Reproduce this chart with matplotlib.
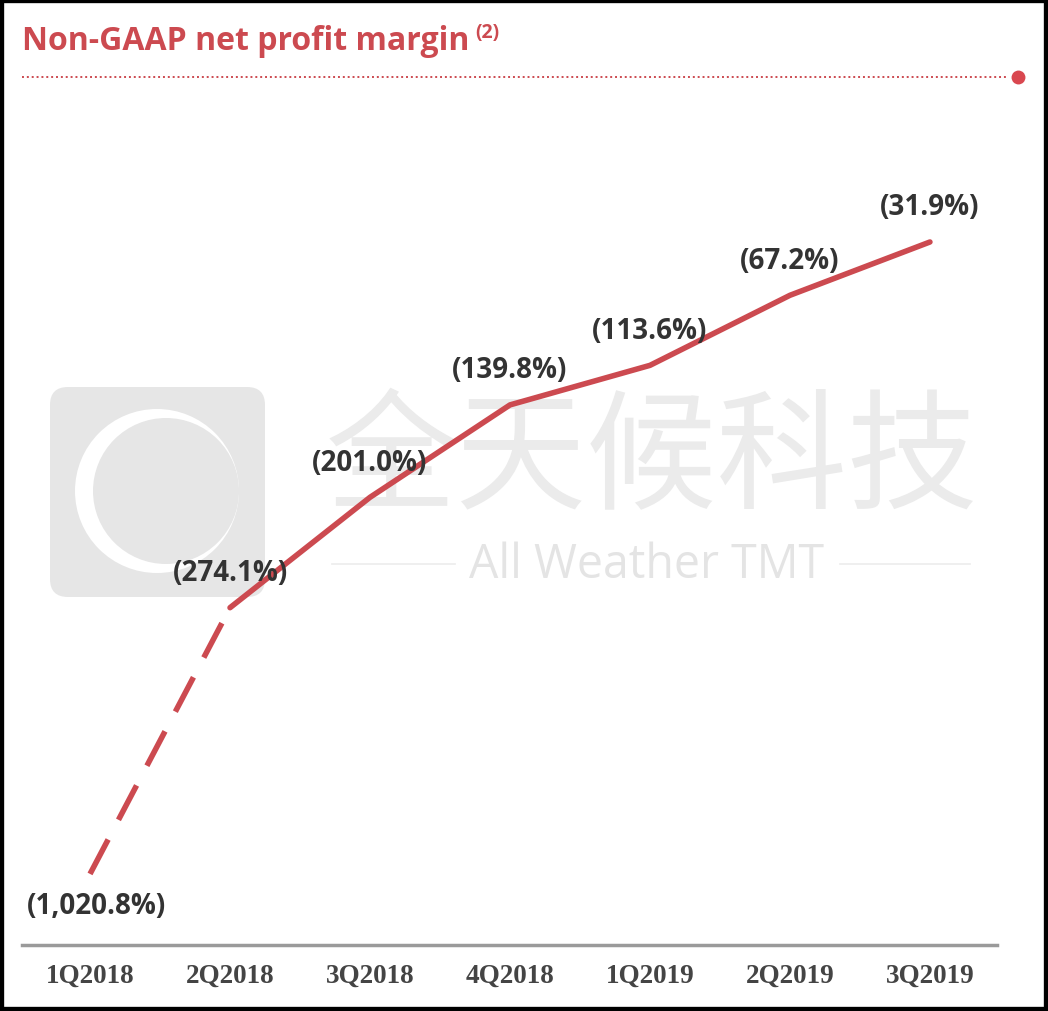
import numpy as np
import matplotlib
matplotlib.use("Agg")
import matplotlib.pyplot as plt
from matplotlib.patches import FancyBboxPatch, Circle, Rectangle

# ---- data ----
quarters = ["1Q2018", "2Q2018", "3Q2018", "4Q2018", "1Q2019", "2Q2019", "3Q2019"]
margin = [-1020.8, -274.1, -201.0, -139.8, -113.6, -67.2, -31.9]
labels = ["(1,020.8%)", "(274.1%)", "(201.0%)", "(139.8%)", "(113.6%)", "(67.2%)", "(31.9%)"]
title = "Non-GAAP net profit margin"
title_note = "(2)"

RED = "#cc4a50"
W, H = 1048, 1012
fig = plt.figure(figsize=(W / 100, H / 100), dpi=100)
fig.patch.set_facecolor("white")

# ---- overlay (pixel coordinates) for decoration ----
bg = fig.add_axes([0, 0, 1, 1], zorder=0)
bg.set_xlim(0, W)
bg.set_ylim(H, 0)
bg.axis("off")
# watermark
bg.add_patch(FancyBboxPatch((60, 398), 195, 190, boxstyle="round,pad=10,rounding_size=18",
                            facecolor="#e6e6e6", edgecolor="none"))
bg.add_patch(Circle((157, 492), 82, facecolor="white", edgecolor="none"))
bg.add_patch(Circle((166, 492), 73, facecolor="#e6e6e6", edgecolor="none"))
bg.text(652, 462, "全天候科技", fontsize=94, color="#ebebeb", ha="center", va="center",
        family=["Noto Sans CJK SC", "DejaVu Sans"], fontweight="light")
bg.text(647, 565, "All Weather TMT", fontsize=33.5, color="#e4e4e4", ha="center", va="center",
        family="Open Sans")
bg.plot([332, 455], [565, 565], color="#ececec", lw=1.2)
bg.plot([840, 970], [565, 565], color="#ececec", lw=1.2)
# title rule
bg.plot([22, 1008], [78, 78], color=RED, lw=1.4, ls=(0, (1, 1.5)))
bg.plot([1018], [78], marker="o", ms=10, color="#d9474f", mec="none")
# frame
bg.add_patch(Rectangle((0, 0), W, H, facecolor="none", edgecolor="black", lw=6))

# ---- title ----
fig.text(22 / W, 1 - 42 / H, title, fontsize=23, fontweight="bold", color=RED,
         family="Open Sans", ha="left", va="center")
fig.text(475 / W, 1 - 33 / H, title_note, fontsize=14, fontweight="bold", color=RED,
         family="Open Sans", ha="left", va="center")

# ---- main chart ----
BREAK, K = -300.0, 0.2087

def fwd(v):
    v = np.asarray(v, dtype=float)
    return np.where(v >= BREAK, v, BREAK + (v - BREAK) * K)

def inv(u):
    u = np.asarray(u, dtype=float)
    return np.where(u >= BREAK, u, BREAK + (u - BREAK) / K)

ax = fig.add_axes([22 / W, (H - 946) / H, (997 - 22) / W, (946 - 100) / H], zorder=2)
ax.patch.set_alpha(0)
ax.set_yscale("function", functions=(fwd, inv))
ax.set_ylim(float(inv(-497.5)), 62.8)
ax.set_xlim(-0.486, 6.479)

x = np.arange(len(quarters))
ax.plot(x[:2], margin[:2], color=RED, lw=4, ls=(0, (7, 4)), solid_capstyle="butt",
        dash_capstyle="butt")
ax.plot(x[1:], margin[1:], color=RED, lw=4, solid_capstyle="round")

for i, (xi, v, lab) in enumerate(zip(x, margin, labels)):
    if i == 0:
        off = (6, -32)
    else:
        off = (0, 35)
    ax.annotate(lab, (xi, v), xytext=off, textcoords="offset pixels",
                ha="center", va="center", fontsize=20, fontweight="bold",
                color="#333333", family="Open Sans")

for s in ["top", "left", "right"]:
    ax.spines[s].set_visible(False)
ax.spines["bottom"].set_color("#9a9a9a")
ax.spines["bottom"].set_linewidth(2.5)
ax.set_yticks([])
ax.set_xticks(x)
ax.set_xticklabels(quarters, fontsize=19.5, fontweight="bold", color="#444444",
                   family="Liberation Serif")
ax.tick_params(axis="x", length=0, pad=13)
ax.minorticks_off()

fig.savefig("out.png", dpi=100, facecolor="white")
